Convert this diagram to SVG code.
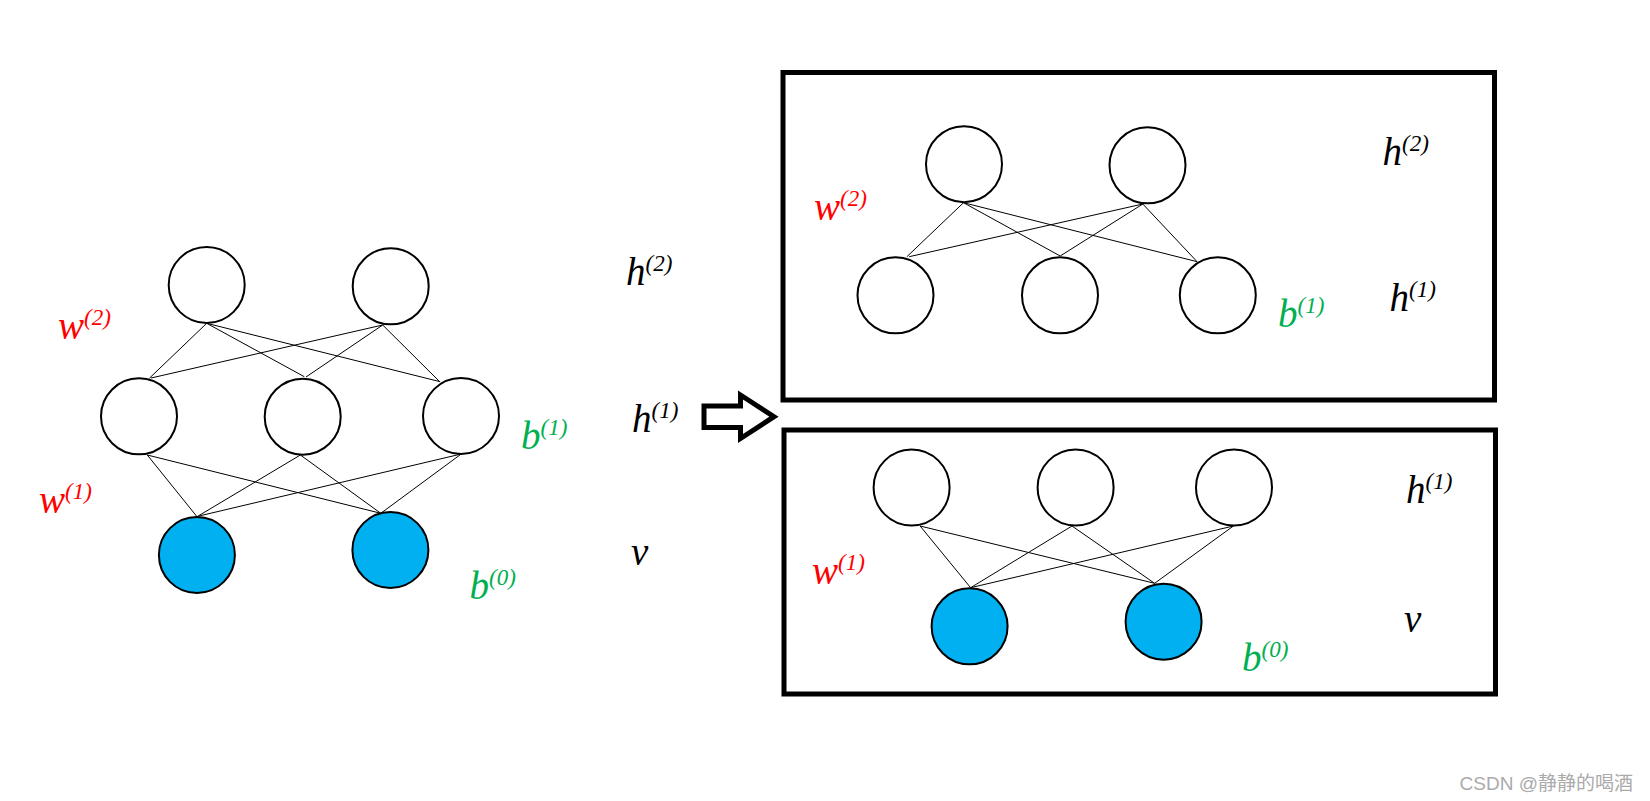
<svg xmlns="http://www.w3.org/2000/svg" width="1650" height="801" viewBox="0 0 1650 801">
<style>
.n{fill:#fff;stroke:#000;stroke-width:2}
.v{fill:#00B0F0;stroke:#000;stroke-width:2}
.c line{stroke:#000;stroke-width:1}
.box{fill:none;stroke:#000;stroke-width:5}
.m{font-family:"Liberation Serif","Times New Roman",serif;font-style:italic;font-size:39px}
.s{font-size:23px}
.k{fill:#000}.r{fill:#FF0000}.g{fill:#00B050}
.wm{font-family:"Liberation Sans","Noto Sans CJK SC",sans-serif;font-size:19px;fill:#aaa}
</style>
<rect width="1650" height="801" fill="#fff"/>
<g id="connectors" class="c">
<line x1="206.7" y1="323.3" x2="149.3" y2="378.3"/>
<line x1="206.7" y1="323.3" x2="304.3" y2="376.7"/>
<line x1="206.7" y1="323.3" x2="440.1" y2="381.7"/>
<line x1="382.7" y1="325" x2="151" y2="378"/>
<line x1="382.7" y1="325" x2="306" y2="377"/>
<line x1="382.7" y1="325" x2="440" y2="382"/>
<line x1="147.3" y1="455" x2="197" y2="516.7"/>
<line x1="147.3" y1="455" x2="380.8" y2="513.3"/>
<line x1="300.4" y1="455" x2="197" y2="516.7"/>
<line x1="300.4" y1="455" x2="380.8" y2="513.3"/>
<line x1="461.2" y1="454" x2="199" y2="516"/>
<line x1="461.2" y1="454" x2="380.8" y2="513.3"/>
<line x1="963.5" y1="202.7" x2="906.9" y2="256.7"/>
<line x1="963.5" y1="202.7" x2="1060.2" y2="256"/>
<line x1="963.5" y1="202.7" x2="1197.1" y2="261.7"/>
<line x1="1142.8" y1="204" x2="909.2" y2="256.7"/>
<line x1="1142.8" y1="204" x2="1060.2" y2="256"/>
<line x1="1142.8" y1="204" x2="1197.1" y2="261.7"/>
<line x1="920.1" y1="526" x2="970.6" y2="587.7"/>
<line x1="920.1" y1="526" x2="1154.6" y2="583.3"/>
<line x1="1072" y1="526" x2="970.6" y2="587.7"/>
<line x1="1072" y1="526" x2="1154.6" y2="583.3"/>
<line x1="1233.4" y1="526" x2="970.6" y2="587.7"/>
<line x1="1233.4" y1="526" x2="1154.6" y2="583.3"/>
</g>
<g id="left-net">
<circle id="l-h2a" class="n" cx="206.7" cy="285" r="38"/>
<circle id="l-h2b" class="n" cx="390.7" cy="286.3" r="38"/>
<circle id="l-h1a" class="n" cx="139" cy="416.3" r="38"/>
<circle id="l-h1b" class="n" cx="302.7" cy="416.7" r="38"/>
<circle id="l-h1c" class="n" cx="461" cy="416" r="38"/>
<circle id="l-va" class="v" cx="196.9" cy="555" r="38"/>
<circle id="l-vb" class="v" cx="390.4" cy="550" r="38"/>
</g>
<g id="box1">
<rect class="box" x="783" y="72.5" width="711.5" height="327.5"/>
<circle id="t-h2a" class="n" cx="964" cy="164.2" r="38"/>
<circle id="t-h2b" class="n" cx="1147.5" cy="165.3" r="38"/>
<circle id="t-h1a" class="n" cx="895.5" cy="295.3" r="38"/>
<circle id="t-h1b" class="n" cx="1060" cy="295.3" r="38"/>
<circle id="t-h1c" class="n" cx="1217.8" cy="295.3" r="38"/>
</g>
<g id="box2">
<rect class="box" x="784" y="430" width="711.5" height="264"/>
<circle id="b-h1a" class="n" cx="911.6" cy="487.5" r="38"/>
<circle id="b-h1b" class="n" cx="1075.6" cy="487.5" r="38"/>
<circle id="b-h1c" class="n" cx="1234" cy="487.5" r="38"/>
<circle id="b-va" class="v" cx="969.6" cy="626.3" r="38"/>
<circle id="b-vb" class="v" cx="1163.6" cy="621.7" r="38"/>
</g>
<g id="arrow">
<polygon points="704,406 740.5,406 740.5,395 774,416.7 740.5,438.5 740.5,427.5 704,427.5" fill="#fff" stroke="#000" stroke-width="5"/>
</g>
<g id="labels">
<text class="m r" x="58" y="339">w<tspan class="s" dy="-14">(2)</tspan></text>
<text class="m r" x="39" y="513">w<tspan class="s" dy="-14">(1)</tspan></text>
<text class="m g" x="521" y="448.5">b<tspan class="s" dy="-14">(1)</tspan></text>
<text class="m g" x="469.5" y="599">b<tspan class="s" dy="-14">(0)</tspan></text>
<text class="m k" x="626" y="285">h<tspan class="s" dy="-14">(2)</tspan></text>
<text class="m k" x="632" y="432">h<tspan class="s" dy="-14">(1)</tspan></text>
<text class="m k" x="631" y="565">v</text>
<text class="m r" x="814" y="220">w<tspan class="s" dy="-14">(2)</tspan></text>
<text class="m k" x="1382.5" y="164.5">h<tspan class="s" dy="-14">(2)</tspan></text>
<text class="m k" x="1389.5" y="311">h<tspan class="s" dy="-14">(1)</tspan></text>
<text class="m g" x="1278" y="327">b<tspan class="s" dy="-14">(1)</tspan></text>
<text class="m r" x="812" y="584">w<tspan class="s" dy="-14">(1)</tspan></text>
<text class="m k" x="1406" y="503">h<tspan class="s" dy="-14">(1)</tspan></text>
<text class="m k" x="1404" y="632">v</text>
<text class="m g" x="1242" y="670.5">b<tspan class="s" dy="-14">(0)</tspan></text>
</g>
<text class="wm" x="1633" y="790" text-anchor="end">CSDN @静静的喝酒</text>
</svg>
